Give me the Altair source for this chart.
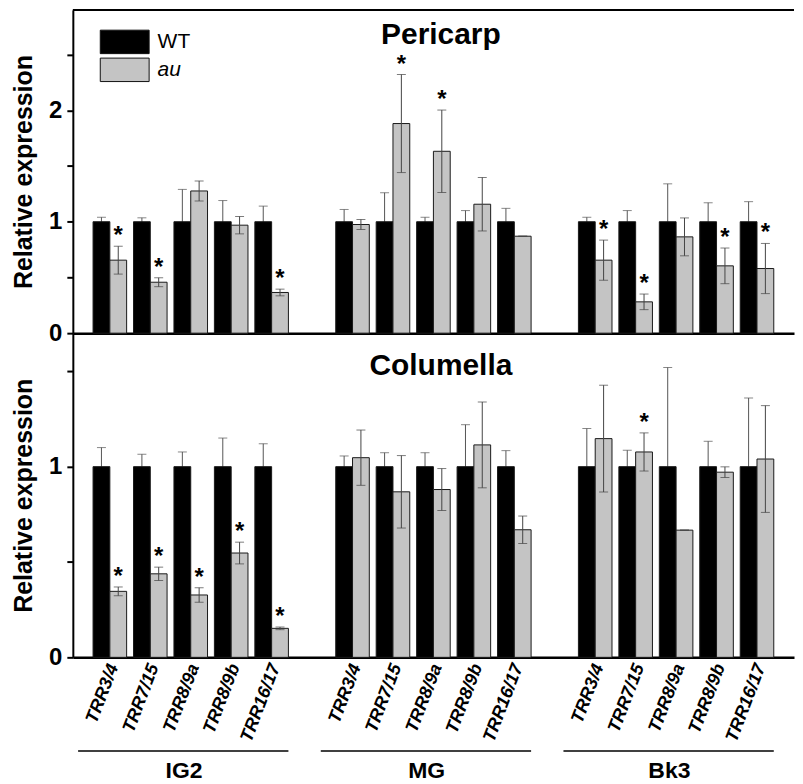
import altair as alt
import pandas as pd

FONT = "Liberation Sans"

groups = ["IG2", "MG", "Bk3"]
genes = ["TRR3/4", "TRR7/15", "TRR8/9a", "TRR8/9b", "TRR16/17"]
genotypes = ["WT", "au"]
panels = ["Pericarp", "Columella"]

# ---- Pericarp (order: IG2 genes, MG genes, Bk3 genes) ----
peri_wt_mean = [1.0, 1.0, 1.0, 1.0, 1.0, 1.0, 1.0, 1.0, 1.0, 1.0, 1.0, 1.0, 1.0, 1.0, 1.0]
peri_wt_err = [0.04, 0.035, 0.29, 0.19, 0.14,
               0.11, 0.26, 0.04, 0.10, 0.12,
               0.04, 0.10, 0.34, 0.17, 0.18]
peri_au_mean = [0.655, 0.457, 1.276, 0.969, 0.365,
                0.975, 1.881, 1.632, 1.157, 0.87,
                0.655, 0.281, 0.864, 0.604, 0.58]
peri_au_err = [0.125, 0.04, 0.09, 0.078, 0.03,
               0.045, 0.44, 0.37, 0.24, 0.0,
               0.18, 0.07, 0.17, 0.16, 0.225]
peri_au_star = [1, 1, 0, 0, 1,
                0, 1, 1, 0, 0,
                1, 1, 0, 1, 1]

# ---- Columella ----
col_wt_mean = [1.0, 1.0, 1.0, 1.0, 1.0, 1.0, 1.0, 1.0, 1.0, 1.0, 1.0, 1.0, 1.0, 1.0, 1.0]
col_wt_err = [0.10, 0.065, 0.077, 0.15, 0.12,
              0.056, 0.073, 0.073, 0.22, 0.084,
              0.20, 0.086, 0.52, 0.133, 0.36]
col_au_mean = [0.346, 0.438, 0.327, 0.547, 0.152,
               1.047, 0.868, 0.88, 1.114, 0.669,
               1.147, 1.077, 0.667, 0.971, 1.04]
col_au_err = [0.023, 0.035, 0.038, 0.057, 0.007,
              0.145, 0.19, 0.11, 0.225, 0.072,
              0.28, 0.10, 0.0, 0.028, 0.28]
col_au_star = [1, 1, 1, 1, 1,
               0, 0, 0, 0, 0,
               0, 1, 0, 0, 0]

y_ticks_top = [0, 0.5, 1, 1.5, 2, 2.5]
y_ticks_bottom = [0, 0.5, 1, 1.5]
y_max_top = 2.9
y_max_bottom = 1.7

# slot domain with a spacer between groups
slot_domain = []
for gi, g in enumerate(groups):
    slot_domain += [f"{g}|{gene}" for gene in genes]
    if gi < len(groups) - 1:
        slot_domain.append(f"gap{gi + 1}")


def build_df(wt_mean, wt_err, au_mean, au_err, au_star):
    rows = []
    k = 0
    for g in groups:
        for gene in genes:
            slot = f"{g}|{gene}"
            rows.append(dict(slot=slot, group=g, gene=gene, genotype="WT",
                             mean=wt_mean[k], err=wt_err[k], star=0))
            rows.append(dict(slot=slot, group=g, gene=gene, genotype="au",
                             mean=au_mean[k], err=au_err[k], star=au_star[k]))
            k += 1
    return pd.DataFrame(rows)


df_peri = build_df(peri_wt_mean, peri_wt_err, peri_au_mean, peri_au_err, peri_au_star)
df_col = build_df(col_wt_mean, col_wt_err, col_au_mean, col_au_err, col_au_star)

W = 723
H_TOP = 324
H_BOT = 325

x_scale = alt.Scale(domain=slot_domain, paddingInner=0.17, paddingOuter=0.5)
xo = alt.XOffset("genotype:N", sort=genotypes,
                 scale=alt.Scale(domain=genotypes, paddingInner=0, paddingOuter=0))
fill_scale = alt.Scale(domain=genotypes, range=["#000000", "#c4c4c4"])


def panel(df, name, ymax, yticks, height, bottom, title_y):
    if bottom:
        x_axis = alt.Axis(title=None, ticks=False, labelAngle=291, labelAlign="right",
                          labelBaseline="middle", labelFontSize=18, labelFontStyle="italic",
                          labelFontWeight="bold", labelPadding=7, labelOffset=4,
                          labelOverlap=False, labelFont=FONT, labelColor="black",
                          labelExpr="indexof(datum.label, '|') >= 0 ? split(datum.label, '|')[1] : ''")
    else:
        x_axis = alt.Axis(title=None, ticks=False, labels=False)

    y_axis = alt.Axis(values=yticks, title="Relative expression",
                      labelFontSize=24, labelFontWeight="bold", labelFont=FONT,
                      titleFontSize=25, titleFontWeight="bold", titleFont=FONT,
                      labelExpr="datum.value % 1 == 0 ? format(datum.value, 'd') : ''")
    y_scale = alt.Scale(domain=[0, ymax], nice=False, zero=True)

    base = alt.Chart(df).transform_calculate(
        lo="datum.mean - datum.err", hi="datum.mean + datum.err"
    ).encode(
        x=alt.X("slot:N", scale=x_scale, axis=x_axis, sort=slot_domain),
        xOffset=xo,
    )

    if bottom:
        legend = None
    else:
        legend = alt.Legend(title=None, orient="none", legendX=39, legendY=19,
                            symbolType="M-2,-0.96H2V0.96H-2Z", symbolSize=600,
                            symbolStrokeColor="#111111", symbolStrokeWidth=1,
                            symbolOpacity=1, labelFont=FONT, labelFontSize=21,
                            labelColor="black", labelOffset=20, rowPadding=0,
                            labelFontStyle=alt.ExprRef(expr="datum.label == 'au' ? 'italic' : 'normal'"))

    bars = base.mark_bar(stroke="#1a1a1a", strokeWidth=1).encode(
        y=alt.Y("mean:Q", scale=y_scale, axis=y_axis),
        fill=alt.Fill("genotype:N", scale=fill_scale, sort=genotypes, legend=legend),
    )

    y_lo = alt.Y("lo:Q", scale=y_scale, axis=y_axis)
    y_hi = alt.Y("hi:Q", scale=y_scale, axis=y_axis)

    wt = base.transform_filter("datum.genotype == 'WT'")
    au = base.transform_filter("datum.genotype == 'au'")

    wt_rule = wt.mark_rule(color="#555555", strokeWidth=1).encode(y=y_lo, y2="hi:Q")
    wt_cap = wt.mark_tick(color="#555555", orient="horizontal", size=9, thickness=1).encode(y=y_hi)
    au_rule = au.mark_rule(color="#444444", strokeWidth=1).encode(y=y_lo, y2="hi:Q")
    au_cap_hi = au.mark_tick(color="#444444", orient="horizontal", size=9, thickness=1).encode(y=y_hi)
    au_cap_lo = au.mark_tick(color="#444444", orient="horizontal", size=9, thickness=1).encode(y=y_lo)
    stars = au.transform_filter("datum.star == 1").mark_text(
        text="*", font=FONT, fontSize=24, fontWeight="bold", color="black",
        baseline="alphabetic", dy=-3
    ).encode(y=y_hi)

    title = alt.Chart(pd.DataFrame({"t": [name]})).mark_text(
        font=FONT, fontSize=30, fontWeight="bold", color="black",
        align="center", baseline="alphabetic"
    ).encode(text="t:N", x=alt.value(369), y=alt.value(title_y))

    layers = [wt_rule, wt_cap, bars, au_rule, au_cap_hi, au_cap_lo, stars, title]

    if not bottom:
        frame_top = alt.Chart(pd.DataFrame({"a": [0]})).mark_rule(
            color="black", strokeWidth=2
        ).encode(x=alt.value(0), x2=alt.value(W), y=alt.value(0))
        layers.append(frame_top)
    else:
        gdf = pd.DataFrame({
            "group": groups,
            "first": [f"{g}|{genes[0]}" for g in groups],
            "mid": [f"{g}|{genes[2]}" for g in groups],
            "last": [f"{g}|{genes[-1]}" for g in groups],
        })
        underline = alt.Chart(gdf).mark_rule(
            color="black", strokeWidth=1.5, xOffset=-15, x2Offset=0
        ).encode(
            x=alt.X("first:N", bandPosition=0, scale=x_scale, axis=x_axis),
            x2=alt.X2("last:N", bandPosition=1),
            y=alt.value(height + 94),
        )
        glabel = alt.Chart(gdf).mark_text(
            font=FONT, fontSize=23, fontWeight="bold", color="black",
            align="center", baseline="middle"
        ).encode(
            x=alt.X("mid:N", bandPosition=0.3, scale=x_scale, axis=x_axis),
            text="group:N",
            y=alt.value(height + 114),
        )
        layers += [underline, glabel]

    return alt.layer(*layers).properties(width=W, height=height)


top = panel(df_peri, panels[0], y_max_top, y_ticks_top, H_TOP, False, 34)
bot = panel(df_col, panels[1], y_max_bottom, y_ticks_bottom, H_BOT, True, 42)

chart = alt.vconcat(top, bot, spacing=0, bounds="flush").resolve_legend(
    fill="independent"
).properties(
    padding={"left": 3, "top": 0, "right": 0, "bottom": 0}
).configure_view(
    stroke=None
).configure_axisY(
    domainColor="black", domainWidth=2, tickColor="black", tickWidth=2, tickSize=6,
    labelFont=FONT, labelFontSize=24, labelFontWeight="bold", labelColor="black",
    labelPadding=5, titleFont=FONT, titleFontSize=25, titleFontWeight="bold",
    titleColor="black", titlePadding=12, grid=False
).configure_axisX(
    domainColor="black", domainWidth=2.5, grid=False, labelFontSize=18
)

chart.save("out.html", embed_options={"renderer": "svg", "actions": False})
